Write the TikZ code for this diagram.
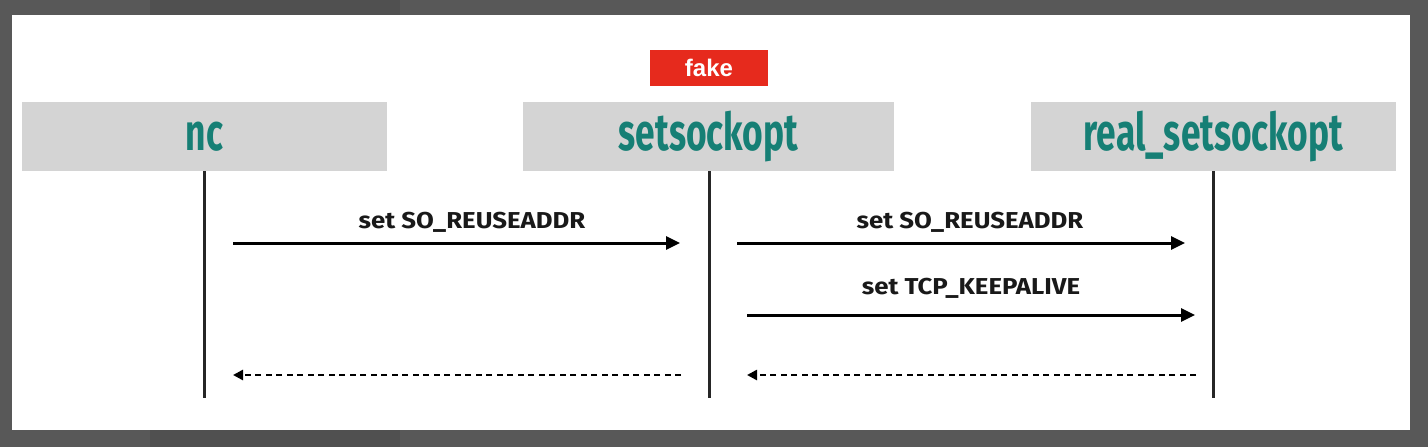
\documentclass[tikz,border=0pt]{standalone}
\usepackage{fontspec}
\setmainfont{Fira Sans}
\newfontfamily\titlefont[FakeStretch=0.68]{Fira Sans}
\newfontfamily\labelfont[FakeStretch=1.12]{Fira Sans}
\newfontfamily\fakefont{Liberation Sans}
\usetikzlibrary{arrows.meta}
\definecolor{bgdark}{HTML}{585858}
\definecolor{bgmid}{HTML}{505050}
\definecolor{boxgrey}{HTML}{D4D4D4}
\definecolor{teal}{HTML}{167F75}
\definecolor{fakered}{HTML}{E62A1D}
\tikzset{
  actor/.style={fill=boxgrey, draw=none, minimum width=365pt, minimum height=69pt, inner sep=0pt,
    text=teal, font=\titlefont\bfseries\fontsize{52}{52}\selectfont},
  fakebox/.style={fill=fakered, draw=none, minimum width=118pt, minimum height=36pt, inner sep=0pt,
    text=white, font=\fakefont\bfseries\fontsize{24}{24}\selectfont},
  lifeline/.style={line width=3pt, color=black!85},
  msg/.style={line width=3pt, -{Triangle[length=14pt,width=13pt]}},
  reply/.style={line width=2.5pt, dash pattern=on 6pt off 4.5pt, -{Triangle[length=10pt,width=10pt]}},
  lbl/.style={font=\labelfont\bfseries\fontsize{23}{23}\selectfont, text=black!90, inner sep=0pt}
}
\begin{document}
\begin{tikzpicture}[x=1pt,y=-1pt]
  \useasboundingbox (0,0) rectangle (1428,447);
  \fill[bgdark] (0,0) rectangle (1428,447);
  \fill[bgmid] (150,0) rectangle (400,447);
  \fill[white] (12,15) rectangle (1410,430);

  \node[fakebox] (fake) at (709,68) {fake};
  \node[actor, minimum width=365pt] (nc) at (204.5,136.5) {nc};
  \node[actor, minimum width=371pt] (ss) at (708.5,136.5) {setsockopt};
  \node[actor, minimum width=365pt] (rs) at (1213.5,136.5) {real\_setsockopt};

  \coordinate (ncT) at (204,171);  \coordinate (ncB) at (204,398);
  \coordinate (ssT) at (709,171);  \coordinate (ssB) at (709,398);
  \coordinate (rsT) at (1213,171); \coordinate (rsB) at (1213,398);
  \draw[lifeline] (ncT) -- (ncB);
  \draw[lifeline] (ssT) -- (ssB);
  \draw[lifeline] (rsT) -- (rsB);

  \coordinate (nc1) at (204,243); \coordinate (ss1) at (709,243); \coordinate (rs1) at (1213,243);
  \coordinate (ss2) at (709,315); \coordinate (rs2) at (1213,315);
  \coordinate (nc3) at (204,375); \coordinate (ss3) at (709,375); \coordinate (rs3) at (1213,375);

  \draw[msg, shorten <=29pt, shorten >=29pt] (nc1) -- (ss1);
  \node[lbl] (l1) at (472,222) {set SO\_REUSEADDR};
  \draw[msg, shorten <=28pt, shorten >=28pt] (ss1) -- (rs1);
  \node[lbl] (l2) at (970,222) {set SO\_REUSEADDR};
  \draw[msg, shorten <=38pt, shorten >=18pt] (ss2) -- (rs2);
  \node[lbl] (l3) at (971,288) {set TCP\_KEEPALIVE};

  \draw[reply, shorten <=17pt, shorten >=38pt] (rs3) -- (ss3);
  \draw[reply, shorten <=28pt, shorten >=29pt] (ss3) -- (nc3);
\end{tikzpicture}
\end{document}
